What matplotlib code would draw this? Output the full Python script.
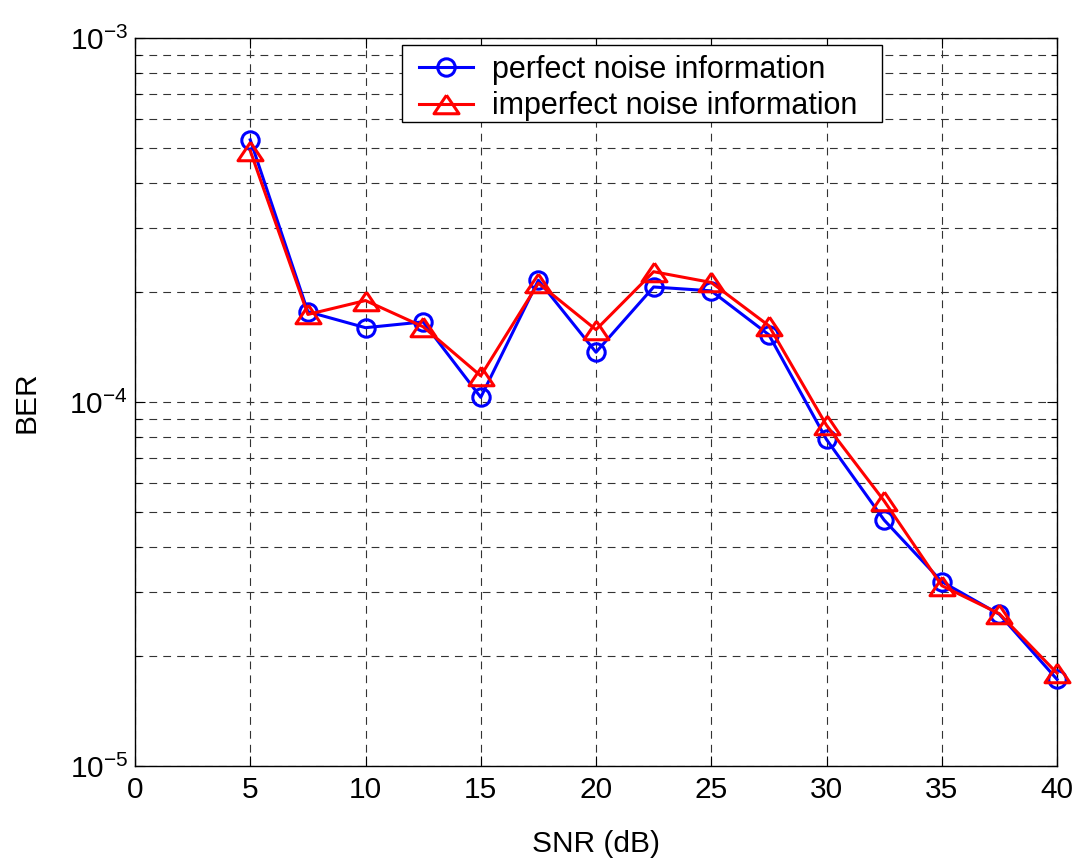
import matplotlib
matplotlib.use("Agg")
import matplotlib.pyplot as plt
from matplotlib.patches import Rectangle
from matplotlib.ticker import LogLocator, FixedLocator, FixedFormatter, NullFormatter

snr = [5, 7.5, 10, 12.5, 15, 17.5, 20, 22.5, 25, 27.5, 30, 32.5, 35, 37.5, 40]
ber_perfect = [5.25e-4, 1.77e-4, 1.60e-4, 1.66e-4, 1.03e-4, 2.16e-4, 1.37e-4,
               2.07e-4, 2.02e-4, 1.53e-4, 7.89e-5, 4.74e-5, 3.21e-5, 2.61e-5, 1.73e-5]
ber_imperfect = [4.90e-4, 1.74e-4, 1.90e-4, 1.61e-4, 1.18e-4, 2.12e-4, 1.58e-4,
                 2.28e-4, 2.13e-4, 1.62e-4, 8.63e-5, 5.35e-5, 3.13e-5, 2.62e-5, 1.80e-5]
labels = ["perfect noise information", "imperfect noise information"]
xticks = [0, 5, 10, 15, 20, 25, 30, 35, 40]

plt.rcParams['font.family'] = ['Liberation Sans', 'DejaVu Sans']
plt.rcParams['mathtext.default'] = 'regular'

FS = 21.5
W, H = 1081, 863
L, R, T, B = 135, 1057, 38, 766
fig = plt.figure(figsize=(W / 100, H / 100), dpi=100)
ax = fig.add_axes([L / W, 1 - B / H, (R - L) / W, (B - T) / H])

def axx(px):
    return (px - L) / (R - L)

def axy(py):
    return (B - py) / (B - T)

tri = [(0, 1), (-1.35, -1), (1.35, -1), (0, 1)]
ax.plot(snr, ber_perfect, color='#0000ff', lw=2.2, marker='o', ms=12.5,
        mfc='none', mec='#0000ff', mew=2.2, label=labels[0], zorder=3, clip_on=False)
ax.plot(snr, ber_imperfect, color='#ff0000', lw=2.2, marker=tri, ms=18,
        mfc='none', mec='#ff0000', mew=2.2, label=labels[1], zorder=4, clip_on=False)

ax.set_yscale('log')
ax.set_xlim(0, 40)
ax.set_ylim(1e-5, 1e-3)
ax.set_xticks(xticks)
ax.set_xticklabels([str(t) for t in xticks])
ax.yaxis.set_major_locator(FixedLocator([1e-5, 1e-4, 1e-3]))
ax.yaxis.set_major_formatter(FixedFormatter(['$10^{-5}$', '$10^{-4}$', '$10^{-3}$']))
ax.yaxis.set_minor_locator(LogLocator(base=10, subs=range(2, 10)))
ax.yaxis.set_minor_formatter(NullFormatter())

ax.tick_params(axis='both', which='both', direction='in', top=True, right=True,
               labelsize=FS)
ax.tick_params(axis='x', pad=7)
ax.tick_params(axis='y', pad=5)
ax.tick_params(which='major', length=7, width=0.8)
ax.tick_params(which='minor', length=4, width=0.8)

ax.grid(True, which='major', axis='both', color='#333333', linestyle=(0, (7, 5.5)), lw=0.8)
ax.grid(True, which='minor', axis='y', color='#333333', linestyle=(0, (7, 5.5)), lw=0.8)

for s in ax.spines.values():
    s.set_linewidth(1.0)
    s.set_color('black')

ax.set_xlabel('SNR (dB)', fontsize=FS, labelpad=19)
ax.set_ylabel('BER', fontsize=FS, labelpad=21)

# legend frame
x0, x1, y0, y1 = axx(402), axx(882), axy(122), axy(45)
ax.add_patch(Rectangle((x0, y0), x1 - x0, y1 - y0, transform=ax.transAxes,
                       facecolor='white', edgecolor='black', lw=1.0, zorder=5,
                       clip_on=False))
leg = ax.legend(loc='upper left', bbox_to_anchor=(axx(419), axy(55)), borderaxespad=0,
                borderpad=0, fontsize=22, frameon=False,
                handlelength=1.76, handletextpad=0.62, labelspacing=0.21)
leg.set_zorder(6)

fig.savefig('out.png', dpi=100, facecolor='white')
